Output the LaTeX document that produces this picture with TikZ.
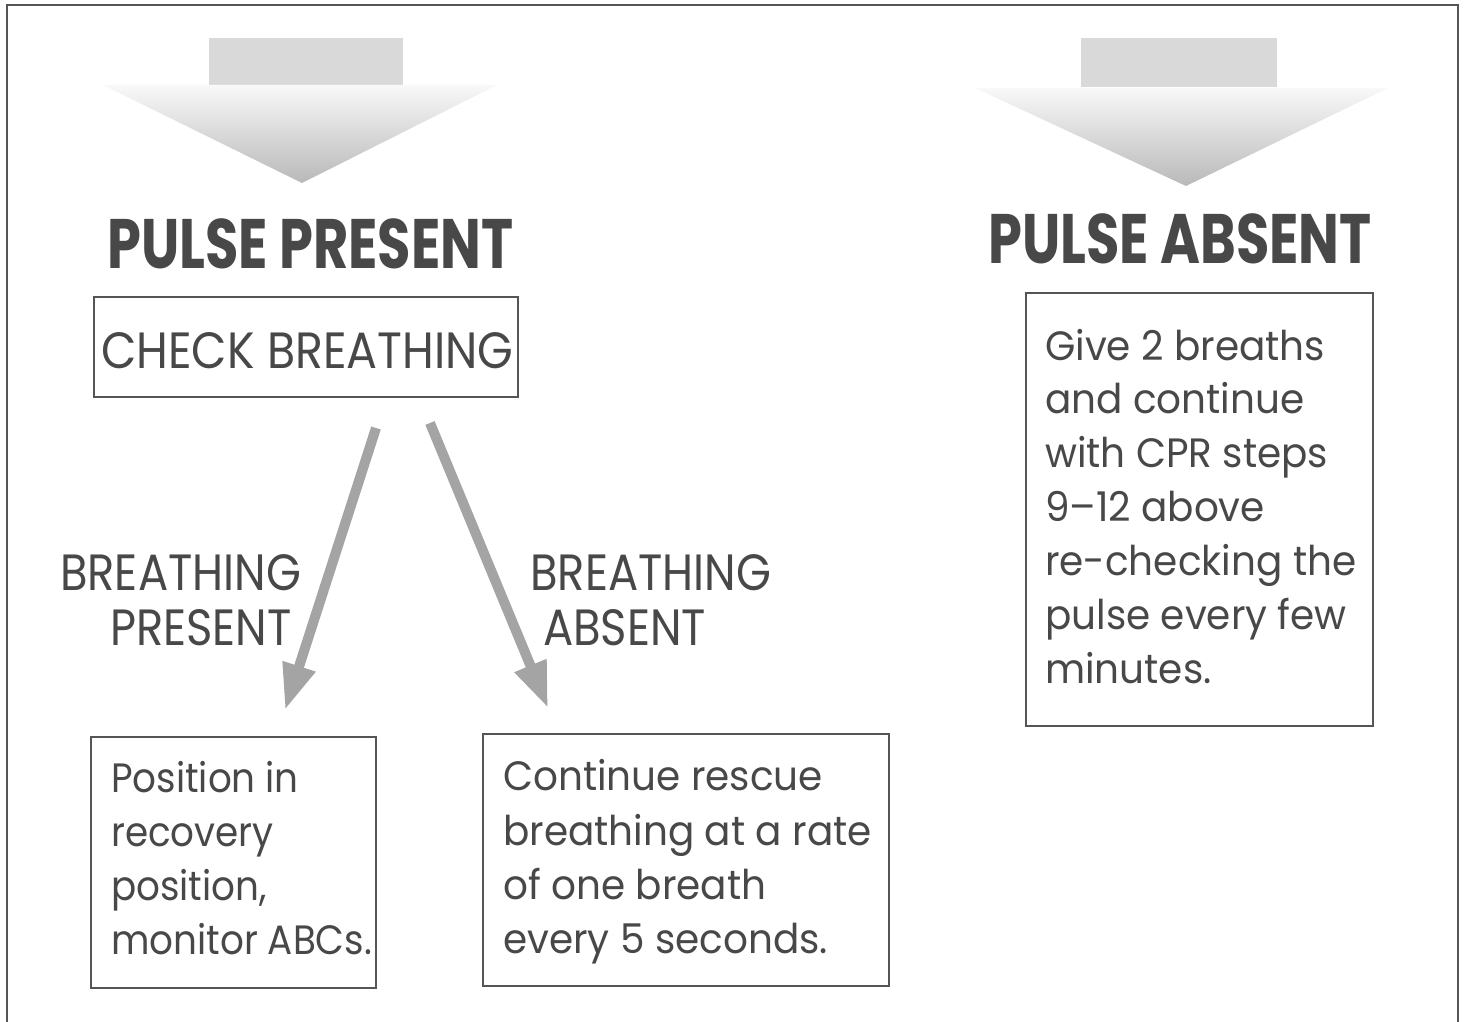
\documentclass[tikz,border=0pt]{standalone}
\usepackage{fontspec}
\setmainfont{Poppins}
\usetikzlibrary{arrows.meta}
\definecolor{ink}{HTML}{484848}
\definecolor{frame}{HTML}{555555}
\definecolor{arrowgray}{HTML}{A4A4A4}
\newcommand\myhs[2]{\scalebox{#1}[1]{#2}}
\tikzset{
  px/.style={x=1pt,y=-1pt},
  box/.style={draw=frame,line width=2.2pt},
  body/.style={anchor=base west,inner sep=0pt,text=ink,font=\fontsize{41}{54}\selectfont},
  head/.style={anchor=base west,inner sep=0pt,text=ink,font=\fontsize{70}{70}\selectfont\bfseries},
  sub/.style={anchor=base west,inner sep=0pt,text=ink,font=\fontsize{51}{60}\selectfont},
  flow/.style={draw=arrowgray,line width=10pt,-{Triangle[length=46pt,width=32pt]}},
}
\begin{document}
\begin{tikzpicture}[px]
\useasboundingbox (0,0) rectangle (1465,1022);
% outer frame
\draw[frame,line width=2.5pt] (7,1022) -- (7,5) -- (1458,5) -- (1458,1022);
% top block arrows
\fill[gray!30] (209,38) rectangle (403,85);
\shade[top color=white!95!gray,bottom color=gray!55] (103,85) -- (497,85) -- (302,183) -- cycle;
\fill[gray!30] (1081,38) rectangle (1277,87);
\shade[top color=white!95!gray,bottom color=gray!55] (975,88) -- (1388,88) -- (1186,186) -- cycle;
% headings
\node[head] (hp) at (107,268) {\myhs{0.775}{PULSE PRESENT}};
\node[head] (ha) at (988,263) {\myhs{0.775}{PULSE ABSENT}};
% check breathing
\draw[box] (94,297) rectangle (518,397);
\node[sub] (cb) at (101,368) {\myhs{0.9}{CHECK BREATHING}};
\coordinate (lstart) at (376,428);
\coordinate (lend) at (285,710);
\coordinate (rstart) at (430,423);
\coordinate (rend) at (548,708);
\draw[flow] (lstart) -- (lend);
\draw[flow] (rstart) -- (rend);
\node[sub] (bp1) at (60,590) {\myhs{0.88}{BREATHING}};
\node[sub] (bp2) at (110,645) {\myhs{0.88}{PRESENT}};
\node[sub] (ba1) at (530,590) {\myhs{0.88}{BREATHING}};
\node[sub] (ba2) at (543,645) {\myhs{0.88}{ABSENT}};
% bottom left box
\draw[box] (91,737) rectangle (376,988);
\node[body] (t1) at (111,792) {\myhs{0.91}{Position in}};
\node[body] (t2) at (111,846) {\myhs{0.91}{recovery}};
\node[body] (t3) at (111,900) {\myhs{0.91}{position,}};
\node[body] (t4) at (111,954) {\myhs{0.91}{monitor ABCs.}};
% bottom middle box
\draw[box] (483,734) rectangle (889,986);
\node[body] (m1) at (503,790) {\myhs{0.95}{Continue rescue}};
\node[body] (m2) at (503,845) {\myhs{0.95}{breathing at a rate}};
\node[body] (m3) at (503,899) {\myhs{0.95}{of one breath}};
\node[body] (m4) at (503,953) {\myhs{0.95}{every 5 seconds.}};
% right box
\draw[box] (1026,293) rectangle (1373,726);
\node[body] (r1) at (1045,360) {\myhs{0.95}{Give 2 breaths}};
\node[body] (r2) at (1045,413) {\myhs{0.95}{and continue}};
\node[body] (r3) at (1045,467) {\myhs{0.95}{with CPR steps}};
\node[body] (r4) at (1045,521) {\myhs{0.95}{9–12 above}};
\node[body] (r5) at (1045,575) {\myhs{0.95}{re-checking the}};
\node[body] (r6) at (1045,629) {\myhs{0.95}{pulse every few}};
\node[body] (r7) at (1045,683) {\myhs{0.95}{minutes.}};
\end{tikzpicture}
\end{document}
